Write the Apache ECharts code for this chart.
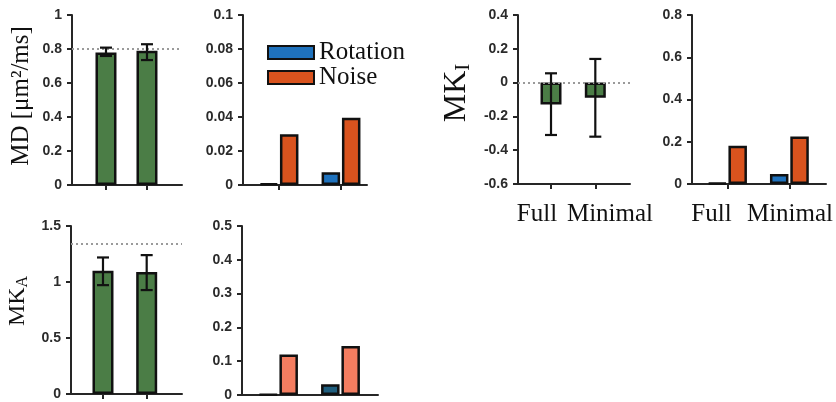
<!DOCTYPE html>
<html>
<head>
<meta charset="utf-8">
<script src="https://cdn.jsdelivr.net/npm/echarts@6/dist/echarts.min.js"></script>
<style>
html,body{margin:0;padding:0;background:#fff;}
#c{width:836px;height:402px;}
</style>
</head>
<body>
<div id="c"></div>
<script>
// ---- data ----
const groups = ['Full', 'Minimal'];
const seriesNames = ['Rotation', 'Noise'];

const mdMean = [0.78, 0.79];
const mdLow = [0.759, 0.735];
const mdHigh = [0.808, 0.828];
const mdRef = 0.8;
const mdRotation = [0.0009, 0.0075];
const mdNoise = [0.0298, 0.0396];

const mkiMean = [-0.13, -0.09];
const mkiLow = [-0.31, -0.32];
const mkiHigh = [0.055, 0.14];
const mkiRef = 0;
const mkiRotation = [0.005, 0.047];
const mkiNoise = [0.181, 0.225];

const mkaMean = [1.10, 1.09];
const mkaLow = [0.972, 0.928];
const mkaHigh = [1.219, 1.24];
const mkaRef = 1.343;
const mkaRotation = [0.002, 0.032];
const mkaNoise = [0.12, 0.145];

// y tick settings [min, max, interval]
const mdTicks = [0, 1, 0.2];
const mdErrTicks = [0, 0.1, 0.02];
const mkiTicks = [-0.6, 0.4, 0.2];
const mkiErrTicks = [0, 0.8, 0.2];
const mkaTicks = [0, 1.5, 0.5];
const mkaErrTicks = [0, 0.5, 0.1];

// ---- styles ----
const AX = '#262626';
const GREEN = '#4b7d46';
const TOP_COLORS = ['#1f72bd', '#d9531e'];
const BOT_COLORS = ['#1f5e7e', '#f47d60'];
const SERIF = '"Liberation Serif", "Times New Roman", serif';
const SANS = '"Liberation Sans", Arial, sans-serif';

const grids = [
  {left: 72, top: 15, width: 110, height: 170},
  {left: 243, top: 15, width: 124, height: 170},
  {left: 518, top: 15, width: 112, height: 169},
  {left: 692, top: 15, width: 134, height: 169},
  {left: 71, top: 226, width: 111, height: 168},
  {left: 242, top: 226, width: 136, height: 170}
];
const xRanges = [
  [0.171, 2.854],
  [0.419, 2.419],
  [0.255, 2.783],
  [0.426, 2.592],
  [0.268, 2.808],
  [0.411, 2.605]
];
const xTickShow = [true, true, true, true, true, false];
const yTicks = [mdTicks, mdErrTicks, mkiTicks, mkiErrTicks, mkaTicks, mkaErrTicks];

const fmt = v => String(+(+v).toFixed(3));

const xAxes = grids.map((g, i) => ({
  gridIndex: i, type: 'value', min: xRanges[i][0], max: xRanges[i][1],
  axisLine: {show: true, onZero: false, lineStyle: {color: AX, width: 2}},
  axisTick: {show: xTickShow[i], customValues: [1, 2], length: 5, lineStyle: {color: AX, width: 2}},
  axisLabel: {show: false},
  splitLine: {show: false}
}));
const yAxes = grids.map((g, i) => ({
  gridIndex: i, type: 'value', min: yTicks[i][0], max: yTicks[i][1], interval: yTicks[i][2],
  axisLine: {show: true, onZero: false, lineStyle: {color: AX, width: 2}},
  axisTick: {show: true, length: 5, lineStyle: {color: AX, width: 2}},
  axisLabel: {fontSize: 14, fontWeight: 'bold', color: '#2b2b2b', fontFamily: SANS, margin: 10, formatter: fmt},
  splitLine: {show: false}
}));

const pts = arr => groups.map((g, i) => [i + 1, arr[i]]);

function meanBar(idx, mean, ref) {
  return {
    type: 'bar', xAxisIndex: idx, yAxisIndex: idx, data: pts(mean), barWidth: 21,
    itemStyle: {color: GREEN, borderColor: '#111', borderWidth: 2.5},
    markLine: {silent: true, symbol: 'none', label: {show: false},
      lineStyle: {type: [2, 3], color: '#9a9a9a', width: 2}, data: [{yAxis: ref}]},
    z: 2
  };
}
function errBar(idx, low, high) {
  return {
    type: 'custom', xAxisIndex: idx, yAxisIndex: idx,
    data: groups.map((g, i) => [i + 1, low[i], high[i]]),
    encode: {x: 0, y: [1, 2]},
    z: 5,
    renderItem: (params, api) => {
      const x = api.value(0);
      const lo = api.coord([x, api.value(1)]);
      const hi = api.coord([x, api.value(2)]);
      const hw = 6;
      const st = {stroke: '#111', lineWidth: 2.2};
      return {type: 'group', children: [
        {type: 'line', shape: {x1: lo[0], y1: lo[1], x2: hi[0], y2: hi[1]}, style: st},
        {type: 'line', shape: {x1: hi[0] - hw, y1: hi[1], x2: hi[0] + hw, y2: hi[1]}, style: st},
        {type: 'line', shape: {x1: lo[0] - hw, y1: lo[1], x2: lo[0] + hw, y2: lo[1]}, style: st}
      ]};
    }
  };
}
function pairBars(idx, rot, noise, colors) {
  return [rot, noise].map((arr, k) => ({
    type: 'bar', name: seriesNames[k], xAxisIndex: idx, yAxisIndex: idx, data: pts(arr),
    barWidth: 18.5, barGap: '10%',
    itemStyle: {color: colors[k], borderColor: '#111', borderWidth: 2.5}
  }));
}

const series = [
  ...pairBars(1, mdRotation, mdNoise, TOP_COLORS),
  ...pairBars(3, mkiRotation, mkiNoise, TOP_COLORS),
  ...pairBars(5, mkaRotation, mkaNoise, BOT_COLORS),
  meanBar(0, mdMean, mdRef), errBar(0, mdLow, mdHigh),
  meanBar(2, mkiMean, mkiRef), errBar(2, mkiLow, mkiHigh),
  meanBar(4, mkaMean, mkaRef), errBar(4, mkaLow, mkaHigh)
];

function txt(x, y, text, size, rot, extra) {
  return {
    type: 'text', x: x, y: y, rotation: rot || 0, silent: true,
    style: Object.assign({text: text, fontFamily: SERIF, fontSize: size, fill: '#111',
      align: 'center', verticalAlign: 'middle', textAlign: 'center', textVerticalAlign: 'middle'}, extra || {})
  };
}

const graphics = [
  txt(21, 96, 'MD [μm²/ms]', 25, Math.PI / 2),
  txt(18, 301, '{m|MK}{s|A}', 24, Math.PI / 2, {rich: {
    m: {fontSize: 24, fontFamily: SERIF, lineHeight: 26, verticalAlign: 'middle'},
    s: {fontSize: 16, fontFamily: SERIF, verticalAlign: 'bottom'}}}),
  txt(457, 93, '{m|MK}{s|I}', 32, Math.PI / 2, {rich: {
    m: {fontSize: 32, fontFamily: SERIF, lineHeight: 34, verticalAlign: 'middle'},
    s: {fontSize: 21, fontFamily: SERIF, verticalAlign: 'bottom'}}}),
  txt(537, 214, groups[0], 25),
  txt(610, 214, groups[1], 25),
  txt(711.5, 214, groups[0], 25),
  txt(790, 214, groups[1], 25)
];

const chart = echarts.init(document.getElementById('c'), null, {renderer: 'canvas'});
chart.setOption({
  animation: false,
  backgroundColor: '#fff',
  grid: grids,
  xAxis: xAxes,
  yAxis: yAxes,
  legend: {
    data: seriesNames, orient: 'vertical', left: 262, top: 35,
    itemWidth: 46, itemHeight: 13, itemGap: 0, icon: 'rect',
    itemStyle: {borderColor: '#111', borderWidth: 2},
    textStyle: {fontFamily: SERIF, fontSize: 25, color: '#111', lineHeight: 19}
  },
  series: series,
  graphic: graphics
});
</script>
</body>
</html>
